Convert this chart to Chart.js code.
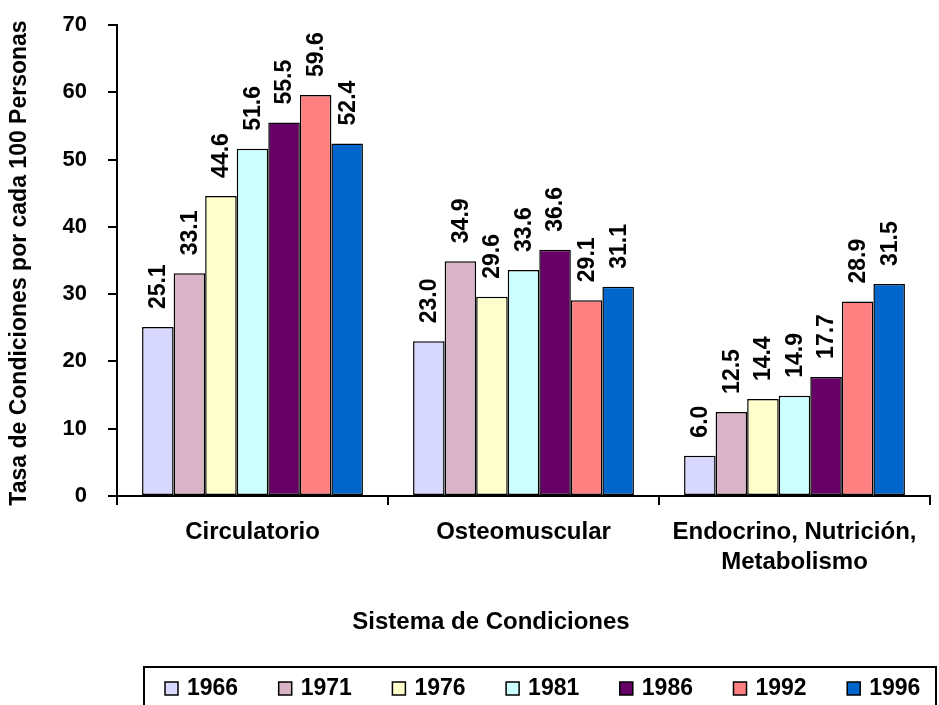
<!DOCTYPE html>
<html>
<head>
<meta charset="utf-8">
<script src="https://cdn.jsdelivr.net/npm/chart.js@4"></script>
<style>
  html, body { margin: 0; padding: 0; background: #fff; }
  #wrap { width: 939px; height: 705px; }
</style>
</head>
<body>
<div id="wrap"><canvas id="chart" width="939" height="705"></canvas></div>
<script>
// datos
const categories = ['Circulatorio', 'Osteomuscular', ['Endocrino, Nutrición,', 'Metabolismo']];
const years = ['1966', '1971', '1976', '1981', '1986', '1992', '1996'];
const v1966 = [25.1, 23.0, 6.0];
const v1971 = [33.1, 34.9, 12.5];
const v1976 = [44.6, 29.6, 14.4];
const v1981 = [51.6, 33.6, 14.9];
const v1986 = [55.5, 36.6, 17.7];
const v1992 = [59.6, 29.1, 28.9];
const v1996 = [52.4, 31.1, 31.5];
const yTicks = [0, 10, 20, 30, 40, 50, 60, 70];
const colors = ['#D8D8FF', '#D8B4C6', '#FFFFCC', '#CCFFFF', '#660066', '#FF8080', '#0066CC'];

const FONT = 'Arial, "Liberation Sans", sans-serif';
const allValues = [v1966, v1971, v1976, v1981, v1986, v1992, v1996];

const datasets = years.map(function (y, i) {
    return {
        label: y,
        data: allValues[i],
        backgroundColor: colors[i],
        borderColor: '#000',
        borderWidth: 1.5,
        borderSkipped: false,
        categoryPercentage: 0.815,
        barPercentage: 1.0
    };
});

// etiquetas de valor giradas, titulos y leyenda
const extras = {
    id: 'extras',
    afterDatasetsDraw(chart) {
        const ctx = chart.ctx;
        ctx.save();
        ctx.fillStyle = '#000';
        ctx.font = 'bold 23px ' + FONT;
        ctx.textAlign = 'left';
        ctx.textBaseline = 'middle';
        chart.data.datasets.forEach(function (ds, di) {
            const meta = chart.getDatasetMeta(di);
            meta.data.forEach(function (bar, i) {
                ctx.save();
                ctx.translate(bar.x, bar.y - 18);
                ctx.rotate(-Math.PI / 2);
                ctx.fillText(ds.data[i].toFixed(1), 0, 1);
                ctx.restore();
            });
        });
        ctx.restore();
    },
    afterDraw(chart) {
        const ctx = chart.ctx;
        ctx.save();
        ctx.fillStyle = '#000';
        ctx.textBaseline = 'middle';
        ctx.textAlign = 'center';

        // titulo eje Y
        ctx.font = 'bold 23px ' + FONT;
        ctx.save();
        ctx.translate(20, 263);
        ctx.rotate(-Math.PI / 2);
        ctx.fillText('Tasa de Condiciones por cada 100 Personas', 0, 0);
        ctx.restore();

        // titulo eje X
        ctx.font = 'bold 24px ' + FONT;
        ctx.fillText('Sistema de Condiciones', 491, 622);

        // leyenda
        ctx.strokeStyle = '#000';
        ctx.lineWidth = 2;
        ctx.strokeRect(144, 667, 792, 50);
        ctx.font = 'bold 23px ' + FONT;
        ctx.textAlign = 'left';
        chart.data.datasets.forEach(function (ds, i) {
            const x = 165 + i * 113.7;
            ctx.fillStyle = ds.backgroundColor;
            ctx.fillRect(x, 682, 13, 13);
            ctx.lineWidth = 1.5;
            ctx.strokeRect(x, 682, 13, 13);
            ctx.fillStyle = '#000';
            ctx.fillText(ds.label, x + 22, 689);
        });
        ctx.restore();
    }
};

new Chart(document.getElementById('chart').getContext('2d'), {
    type: 'bar',
    data: { labels: categories, datasets: datasets },
    options: {
        responsive: false,
        animation: false,
        layout: { padding: { top: 25, right: 9, left: 0, bottom: 0 } },
        plugins: {
            legend: { display: false },
            tooltip: { enabled: false }
        },
        scales: {
            x: {
                grid: { display: true, drawOnChartArea: false, drawTicks: true, tickLength: 9, color: '#000', lineWidth: 2, offset: true },
                border: { display: true, color: '#000', width: 2 },
                ticks: { color: '#000', padding: 12, maxRotation: 0, autoSkip: false, font: { family: FONT, size: 24, weight: 'bold', lineHeight: 1.25 } },
                afterFit: function (s) { s.height = 209; }
            },
            y: {
                min: 0,
                max: 70,
                afterBuildTicks: function (s) { s.ticks = yTicks.map(function (v) { return { value: v }; }); },
                grid: { display: true, drawOnChartArea: false, drawTicks: true, tickLength: 9, color: '#000', lineWidth: 2 },
                border: { display: true, color: '#000', width: 2 },
                ticks: { color: '#000', padding: 21, font: { family: FONT, size: 22, weight: 'bold' } },
                afterFit: function (s) {
                    s.width = 117;
                    s.paddingTop = 0;
                    s.paddingBottom = 0;
                }
            }
        }
    },
    plugins: [extras]
});
</script>
</body>
</html>
